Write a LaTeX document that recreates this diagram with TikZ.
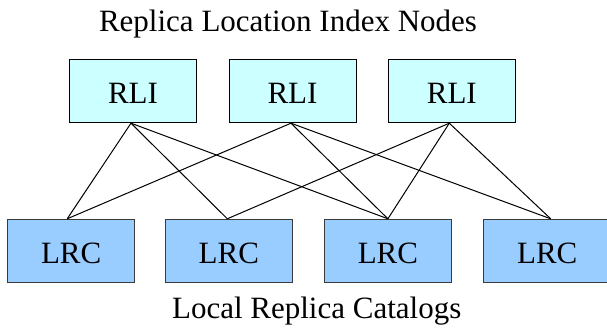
\documentclass[tikz,border=0pt]{standalone}
\usepackage{fontspec}
\setmainfont{Liberation Serif}
\definecolor{rlifill}{HTML}{CCFFFF}
\definecolor{lrcfill}{HTML}{99CCFF}
\definecolor{lrcline}{HTML}{3A3A3A}
\begin{document}
\begin{tikzpicture}[x=1pt,y=-1pt,
  every node/.style={font=\fontsize{31}{36}\selectfont},
  box/.style={rectangle, minimum width=127pt, minimum height=63.5pt, inner sep=0pt,
    text height=24pt, text depth=0pt, line width=0.9pt},
  rlibox/.style={box, draw=black, fill=rlifill},
  lrcbox/.style={box, draw=lrcline, fill=lrcfill},
  link/.style={draw=black, line width=1pt}]
\useasboundingbox (0,0) rectangle (607,332);
\fill[white] (0,0) rectangle (607,332);
\node[anchor=base] (title) at (288,31.7) {Replica Location Index Nodes};
\node[anchor=base] (bottom) at (316.7,318.3) {Local Replica Catalogs};
\node[rlibox] (R1) at (133,91) {RLI};
\node[rlibox] (R2) at (292.5,91) {RLI};
\node[rlibox] (R3) at (451.8,91) {RLI};
\node[lrcbox] (L1) at (71.2,251) {LRC};
\node[lrcbox] (L2) at (228.8,251) {LRC};
\node[lrcbox] (L3) at (387.9,251) {LRC};
\node[lrcbox] (L4) at (547.2,251) {LRC};
\coordinate (r1) at ([xshift=-2pt]R1.south);
\coordinate (r2) at ([xshift=-1.5pt]R2.south);
\coordinate (r3) at ([xshift=-2.5pt]R3.south);
\coordinate (l1) at ([xshift=-4pt]L1.north);
\coordinate (l2) at ([xshift=-1.5pt]L2.north);
\coordinate (l3) at (L3.north);
\coordinate (l4) at ([xshift=3.5pt]L4.north);
\path[link] (r1) -- (l1);
\path[link] (r1) -- (l2);
\path[link] (r1) -- (l3);
\path[link] (r2) -- (l1);
\path[link] (r2) -- (l3);
\path[link] (r2) -- (l4);
\path[link] (r3) -- (l2);
\path[link] (r3) -- (l3);
\path[link] (r3) -- (l4);
\end{tikzpicture}
\end{document}
